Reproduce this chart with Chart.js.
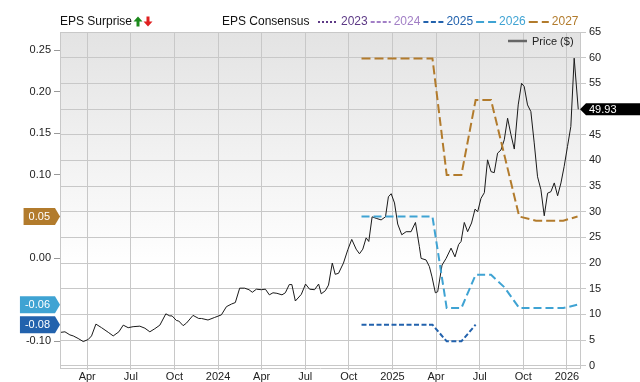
<!DOCTYPE html>
<html>
<head>
<meta charset="utf-8">
<script src="https://cdn.jsdelivr.net/npm/chart.js@4.4.1/dist/chart.umd.min.js"></script>
<style>
    html, body { margin: 0; padding: 0; background: #fff; }
    #wrap { width: 640px; height: 382px; position: relative; }
</style>
</head>
<body>
<div id="wrap"><canvas id="epsChart"></canvas></div>
<script>
// x values are months counted from Jan 2023 (12 = Jan 2024, 24 = Jan 2025, 36 = Jan 2026)
const tickMonths = [3, 6, 9, 12, 15, 18, 21, 24, 27, 30, 33, 36];
const tickLabels = ['Apr', 'Jul', 'Oct', '2024', 'Apr', 'Jul', 'Oct', '2025', 'Apr', 'Jul', 'Oct', '2026'];
const epsTicks = [-0.10, 0.00, 0.05, 0.10, 0.15, 0.20, 0.25];
const priceTicks = [0, 5, 10, 15, 20, 25, 30, 35, 40, 45, 50, 55, 60, 65];

// Price ($)
const priceMonths = [1.20, 1.47, 1.81, 2.04, 2.38, 2.73, 3.07, 3.30, 3.60, 3.99, 4.45, 4.79, 5.18, 5.48, 5.82, 6.16,
    6.62, 6.97, 7.31, 7.65, 8.00, 8.41, 8.68, 8.84, 9.14, 9.30, 9.60, 9.83, 10.28, 10.67, 10.86, 11.31, 11.77,
    12.23, 12.58, 12.92, 13.19, 13.49, 13.83, 14.13, 14.36, 14.64, 14.98, 15.26, 15.53, 15.78, 16.05, 16.40,
    16.63, 16.90, 17.08, 17.32, 17.73, 18.02, 18.30, 18.64, 18.92, 19.10, 19.38, 19.60, 19.86, 20.06, 20.29,
    20.63, 20.93, 21.20, 21.50, 21.73, 21.96, 22.19, 22.37, 22.60, 22.88, 23.22, 23.52, 23.72, 23.91, 24.14,
    24.36, 24.64, 24.94, 25.28, 25.58, 25.85, 25.97, 26.31, 26.54, 26.72, 26.95, 27.11, 27.41, 27.69, 28.03,
    28.30, 28.55, 28.72, 28.94, 29.17, 29.44, 29.68, 29.86, 30.09, 30.32, 30.54, 30.78, 31.00, 31.23, 31.46,
    31.69, 31.92, 32.15, 32.38, 32.65, 32.88, 33.06, 33.29, 33.52, 33.75, 33.98, 34.21, 34.44, 34.67, 34.90,
    35.13, 35.36, 35.59, 35.81, 36.04, 36.27, 36.50, 36.78];
const priceValues = [6.5, 6.6, 6.0, 5.8, 5.3, 4.7, 5.1, 5.8, 8.1, 7.4, 6.5, 5.8, 6.6, 7.9, 7.4, 7.6,
    7.7, 7.3, 6.6, 7.2, 7.9, 10.1, 9.7, 9.7, 8.8, 8.7, 7.8, 8.3, 9.8, 9.2, 9.2, 8.9, 9.4,
    9.9, 11.5, 12.0, 12.3, 15.1, 15.1, 14.8, 14.3, 14.9, 14.8, 14.9, 13.8, 14.2, 14.1, 13.8,
    14.2, 15.8, 15.8, 12.6, 13.9, 15.9, 14.9, 14.8, 15.9, 14.0, 14.6, 15.7, 20.0, 17.8, 18.0,
    20.0, 22.6, 24.6, 22.7, 21.8, 22.7, 24.9, 24.2, 29.0, 28.7, 28.4, 29.0, 32.9, 33.5, 31.7,
    27.6, 25.5, 26.1, 26.1, 27.9, 23.2, 20.9, 20.6, 19.3, 17.3, 14.2, 14.4, 19.6, 20.9, 22.9,
    21.2, 23.6, 24.2, 27.9, 26.1, 27.8, 30.5, 30.0, 32.6, 33.7, 40.1, 37.8, 37.6, 41.4, 42.0,
    44.0, 48.2, 45.0, 42.2, 50.8, 55.0, 54.4, 50.8, 49.5, 43.4, 36.8, 34.3, 29.2, 33.6, 33.9,
    35.6, 33.1, 35.6, 38.8, 42.7, 46.6, 59.9, 49.93];

// EPS consensus by fiscal year
const consensusMonths = [21.87, 26.75, 27.73, 28.74, 29.72, 30.78, 31.70, 32.72, 33.87, 35.75, 36.73];
const eps2023 = [];
const eps2024 = [];
const eps2025 = [-0.08, -0.08, -0.10, -0.10, -0.08, null, null, null, null, null, null];
const eps2026 = [0.05, 0.05, -0.06, -0.06, -0.02, -0.02, -0.035, -0.06, null, -0.06, -0.056];
const eps2027 = [0.24, 0.24, 0.10, 0.10, 0.19, 0.19, null, 0.05, 0.045, 0.045, 0.05];

const FONT = "'Liberation Sans', Arial, sans-serif";
Chart.defaults.font.family = FONT;

const series = [
    { label: '2023', data: eps2023, color: '#5d3a86', dash: [2, 2] },
    { label: '2024', data: eps2024, color: '#a27fc6', dash: [4, 2] },
    { label: '2025', data: eps2025, color: '#2262ad', dash: [5, 2.5] },
    { label: '2026', data: eps2026, color: '#3fa3d3', dash: [8, 4] },
    { label: '2027', data: eps2027, color: '#b27b2c', dash: [9, 4] }
];

function toPoints(xs, ys) {
    return xs.map((x, i) => ({ x: x, y: ys[i] === undefined ? null : ys[i] }));
}

function lastValue(arr) {
    for (let i = arr.length - 1; i >= 0; i--) if (arr[i] !== null) return arr[i];
    return null;
}

const datasets = series.map(s => ({
    label: s.label,
    data: s.data.length ? toPoints(consensusMonths, s.data) : [],
    borderColor: s.color,
    borderDash: s.dash,
    borderWidth: 2,
    pointRadius: 0,
    spanGaps: true,
    yAxisID: 'y'
}));
datasets.push({
    label: 'Price ($)',
    data: toPoints(priceMonths, priceValues),
    borderColor: '#1a1a1a',
    borderWidth: 1,
    pointRadius: 0,
    yAxisID: 'y1'
});

function arrow(ctx, x, y, up, color) {
    ctx.fillStyle = color;
    ctx.beginPath();
    if (up) {
        ctx.moveTo(x, y - 5); ctx.lineTo(x + 4.5, y); ctx.lineTo(x + 1.5, y); ctx.lineTo(x + 1.5, y + 5);
        ctx.lineTo(x - 1.5, y + 5); ctx.lineTo(x - 1.5, y); ctx.lineTo(x - 4.5, y);
    } else {
        ctx.moveTo(x, y + 5); ctx.lineTo(x + 4.5, y); ctx.lineTo(x + 1.5, y); ctx.lineTo(x + 1.5, y - 5);
        ctx.lineTo(x - 1.5, y - 5); ctx.lineTo(x - 1.5, y); ctx.lineTo(x - 4.5, y);
    }
    ctx.closePath();
    ctx.fill();
}

const decorPlugin = {
    id: 'decor',
    beforeDraw(chart) {
        const { ctx, chartArea: a } = chart;
        const g = ctx.createLinearGradient(0, a.top, 0, a.bottom);
        g.addColorStop(0, '#e3e3e3');
        g.addColorStop(0.7, '#ffffff');
        ctx.save();
        ctx.fillStyle = g;
        ctx.fillRect(a.left, a.top, a.right - a.left, a.bottom - a.top);
        ctx.strokeStyle = '#c8c8c8';
        ctx.lineWidth = 1;
        ctx.beginPath();
        ctx.moveTo(a.left, a.top + 0.5);
        ctx.lineTo(a.right, a.top + 0.5);
        ctx.stroke();
        ctx.restore();
    },
    afterDraw(chart) {
        const { ctx, chartArea: a, scales } = chart;
        ctx.save();
        ctx.textBaseline = 'middle';

        // top legend
        ctx.font = '12px ' + FONT;
        ctx.fillStyle = '#111';
        ctx.textAlign = 'left';
        ctx.fillText('EPS Surprise', 60, 22);
        arrow(ctx, 138, 21.5, true, '#1c8a1c');
        arrow(ctx, 148, 21.5, false, '#e02020');
        ctx.fillStyle = '#111';
        ctx.fillText('EPS Consensus', 222, 22);
        let x = 318;
        series.forEach(s => {
            ctx.strokeStyle = s.color;
            ctx.lineWidth = 2;
            ctx.setLineDash(s.dash);
            ctx.beginPath();
            ctx.moveTo(x, 22);
            ctx.lineTo(x + 20, 22);
            ctx.stroke();
            ctx.setLineDash([]);
            ctx.fillStyle = s.color;
            ctx.fillText(s.label, x + 23, 22);
            x += 23 + ctx.measureText(s.label).width + 3;
        });

        // price legend inside the plot
        ctx.strokeStyle = '#666';
        ctx.lineWidth = 2.5;
        ctx.beginPath();
        ctx.moveTo(508, 41);
        ctx.lineTo(527, 41);
        ctx.stroke();
        ctx.font = '11px ' + FONT;
        ctx.fillStyle = '#222';
        ctx.fillText('Price ($)', 532, 41.5);

        // left badges with last consensus values
        series.forEach(s => {
            const v = lastValue(s.data);
            if (v === null) return;
            const y = scales.y.getPixelForValue(v);
            const txt = v.toFixed(2);
            const w = ctx.measureText(txt).width + 10;
            const tip = a.left;
            ctx.fillStyle = s.color;
            ctx.beginPath();
            ctx.moveTo(tip - 5 - w, y - 8.5);
            ctx.lineTo(tip - 5, y - 8.5);
            ctx.lineTo(tip, y);
            ctx.lineTo(tip - 5, y + 8.5);
            ctx.lineTo(tip - 5 - w, y + 8.5);
            ctx.closePath();
            ctx.fill();
            ctx.fillStyle = '#fff';
            ctx.fillText(txt, tip - w, y + 0.5);
        });

        // right badge with last price
        const last = priceValues[priceValues.length - 1];
        const py = scales.y1.getPixelForValue(last);
        ctx.fillStyle = '#000';
        ctx.beginPath();
        ctx.moveTo(a.right, py);
        ctx.lineTo(a.right + 6, py - 6);
        ctx.lineTo(640, py - 6);
        ctx.lineTo(640, py + 6);
        ctx.lineTo(a.right + 6, py + 6);
        ctx.closePath();
        ctx.fill();
        ctx.fillStyle = '#fff';
        ctx.fillText(last.toFixed(2), a.right + 9, py + 0.5);
        ctx.restore();
    }
};

new Chart(document.getElementById('epsChart').getContext('2d'), {
    type: 'line',
    data: { datasets: datasets },
    options: {
        responsive: true,
        maintainAspectRatio: false,
        animation: false,
        layout: { padding: { top: 32, left: 0, right: 0, bottom: 0 } },
        plugins: { legend: { display: false }, tooltip: { enabled: false } },
        scales: {
            x: {
                type: 'linear',
                min: 1.13,
                max: 36.9,
                afterBuildTicks: s => { s.ticks = tickMonths.map(v => ({ value: v })); },
                afterFit: s => { s.height = 14; },
                ticks: {
                    callback: v => tickLabels[tickMonths.indexOf(v)],
                    font: { size: 11 },
                    color: '#222',
                    maxRotation: 0,
                    autoSkip: false,
                    padding: 0
                },
                grid: { color: '#c8c8c8', tickLength: 2 },
                border: { color: '#c8c8c8' }
            },
            y: {
                position: 'left',
                min: -0.132,
                max: 0.2717,
                afterBuildTicks: s => { s.ticks = epsTicks.map(v => ({ value: v })); },
                afterFit: s => { s.width = 60; },
                ticks: { callback: v => v.toFixed(2), font: { size: 11 }, color: '#222', padding: 3 },
                grid: { drawOnChartArea: false, tickLength: 6, color: '#999' },
                border: { color: '#c8c8c8' }
            },
            y1: {
                position: 'right',
                min: -0.45,
                max: 65,
                afterBuildTicks: s => { s.ticks = priceTicks.map(v => ({ value: v })); },
                afterFit: s => { s.width = 60; },
                ticks: { font: { size: 11 }, color: '#222', padding: 3 },
                grid: { color: '#c8c8c8', tickLength: 6 },
                border: { color: '#c8c8c8' }
            }
        }
    },
    plugins: [decorPlugin]
});
</script>
</body>
</html>
